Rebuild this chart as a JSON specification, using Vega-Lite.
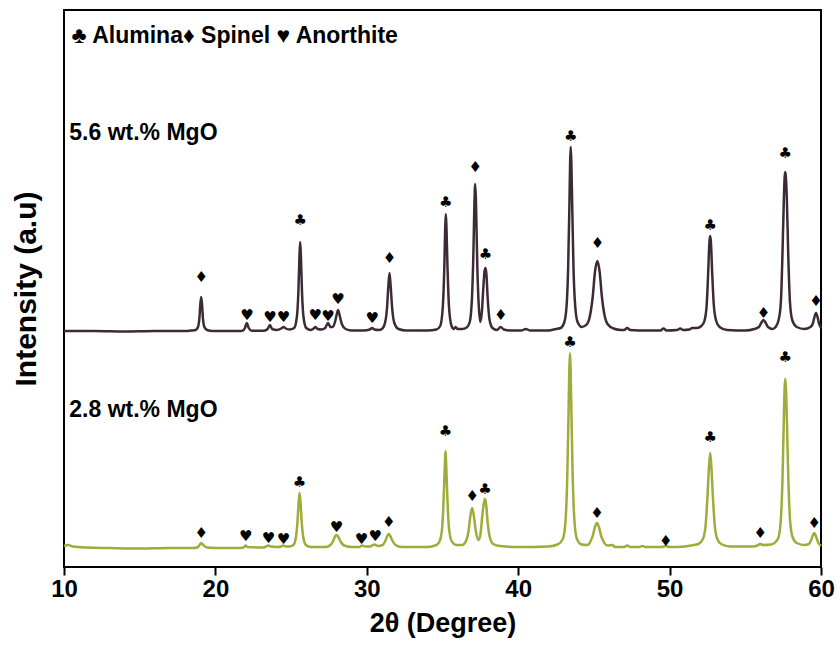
{
  "$schema": "https://vega.github.io/schema/vega-lite/v6.json",
  "autosize": {"type": "none"},
  "padding": {"left": 64, "top": 10, "right": 19, "bottom": 78},
  "width": 757,
  "height": 557,
  "background": "white",
  "config": {
    "view": {"stroke": "black", "strokeWidth": 2},
    "font": "Liberation Sans"
  },
  "datasets": {
    "mgo56": [
      {"theta": 10, "intensity": 236}, {"theta": 12, "intensity": 236}, {"theta": 14, "intensity": 235.5}, {"theta": 16, "intensity": 236}, {"theta": 18, "intensity": 236}, {"theta": 18.4, "intensity": 236.5},
      {"theta": 18.7, "intensity": 237}, {"theta": 18.85, "intensity": 240}, {"theta": 18.95, "intensity": 250}, {"theta": 19.0, "intensity": 262}, {"theta": 19.06, "intensity": 270}, {"theta": 19.12, "intensity": 262}, {"theta": 19.17, "intensity": 250}, {"theta": 19.27, "intensity": 240}, {"theta": 19.45, "intensity": 237}, {"theta": 19.8, "intensity": 236},
      {"theta": 20.5, "intensity": 236}, {"theta": 21.7, "intensity": 236},
      {"theta": 21.8, "intensity": 236.3}, {"theta": 21.95, "intensity": 239}, {"theta": 22.08, "intensity": 244}, {"theta": 22.2, "intensity": 239}, {"theta": 22.4, "intensity": 236.3},
      {"theta": 23.2, "intensity": 236.3}, {"theta": 23.45, "intensity": 238}, {"theta": 23.6, "intensity": 242}, {"theta": 23.75, "intensity": 238},
      {"theta": 24.05, "intensity": 237}, {"theta": 24.35, "intensity": 238.5}, {"theta": 24.5, "intensity": 240}, {"theta": 24.65, "intensity": 238.5}, {"theta": 24.9, "intensity": 237.5},
      {"theta": 25.2, "intensity": 239}, {"theta": 25.38, "intensity": 250}, {"theta": 25.48, "intensity": 275}, {"theta": 25.55, "intensity": 310}, {"theta": 25.6, "intensity": 325}, {"theta": 25.65, "intensity": 310}, {"theta": 25.72, "intensity": 275}, {"theta": 25.82, "intensity": 250}, {"theta": 26.0, "intensity": 239}, {"theta": 26.3, "intensity": 237},
      {"theta": 26.45, "intensity": 238}, {"theta": 26.6, "intensity": 240}, {"theta": 26.75, "intensity": 238}, {"theta": 27.0, "intensity": 237.5},
      {"theta": 27.25, "intensity": 239}, {"theta": 27.44, "intensity": 244}, {"theta": 27.6, "intensity": 240}, {"theta": 27.75, "intensity": 240},
      {"theta": 27.9, "intensity": 245}, {"theta": 28.02, "intensity": 253}, {"theta": 28.1, "intensity": 257}, {"theta": 28.2, "intensity": 252}, {"theta": 28.35, "intensity": 243}, {"theta": 28.6, "intensity": 238}, {"theta": 29.0, "intensity": 236.5},
      {"theta": 29.8, "intensity": 236.5}, {"theta": 30.2, "intensity": 237.5}, {"theta": 30.35, "intensity": 239}, {"theta": 30.5, "intensity": 237.5}, {"theta": 30.8, "intensity": 237},
      {"theta": 31.0, "intensity": 238}, {"theta": 31.2, "intensity": 244}, {"theta": 31.33, "intensity": 258}, {"theta": 31.42, "intensity": 280}, {"theta": 31.5, "intensity": 294}, {"theta": 31.58, "intensity": 280}, {"theta": 31.68, "intensity": 258}, {"theta": 31.82, "intensity": 244}, {"theta": 32.1, "intensity": 238}, {"theta": 32.6, "intensity": 236.5},
      {"theta": 34.0, "intensity": 236.5}, {"theta": 34.6, "intensity": 237.5},
      {"theta": 34.85, "intensity": 241}, {"theta": 35.02, "intensity": 260}, {"theta": 35.12, "intensity": 300}, {"theta": 35.18, "intensity": 340}, {"theta": 35.22, "intensity": 353}, {"theta": 35.26, "intensity": 340}, {"theta": 35.33, "intensity": 300}, {"theta": 35.43, "intensity": 260}, {"theta": 35.6, "intensity": 241}, {"theta": 35.75, "intensity": 238},
      {"theta": 35.86, "intensity": 240}, {"theta": 36.0, "intensity": 238}, {"theta": 36.3, "intensity": 238}, {"theta": 36.6, "intensity": 239.5},
      {"theta": 36.8, "intensity": 245}, {"theta": 36.95, "intensity": 270}, {"theta": 37.05, "intensity": 320}, {"theta": 37.11, "intensity": 365}, {"theta": 37.16, "intensity": 383}, {"theta": 37.21, "intensity": 365}, {"theta": 37.3, "intensity": 300}, {"theta": 37.4, "intensity": 260}, {"theta": 37.5, "intensity": 245}, {"theta": 37.6, "intensity": 255}, {"theta": 37.7, "intensity": 280}, {"theta": 37.78, "intensity": 296}, {"theta": 37.84, "intensity": 299}, {"theta": 37.9, "intensity": 293}, {"theta": 37.98, "intensity": 270}, {"theta": 38.1, "intensity": 248}, {"theta": 38.3, "intensity": 239}, {"theta": 38.6, "intensity": 237},
      {"theta": 38.84, "intensity": 240}, {"theta": 39.05, "intensity": 237.5}, {"theta": 39.5, "intensity": 236.5},
      {"theta": 40.2, "intensity": 236.5}, {"theta": 40.5, "intensity": 238}, {"theta": 40.8, "intensity": 236.5}, {"theta": 42.0, "intensity": 236.5}, {"theta": 42.5, "intensity": 238}, {"theta": 42.8, "intensity": 239},
      {"theta": 43.05, "intensity": 245}, {"theta": 43.2, "intensity": 262}, {"theta": 43.3, "intensity": 300}, {"theta": 43.38, "intensity": 360}, {"theta": 43.43, "intensity": 405}, {"theta": 43.47, "intensity": 420}, {"theta": 43.51, "intensity": 405}, {"theta": 43.57, "intensity": 360}, {"theta": 43.65, "intensity": 300}, {"theta": 43.76, "intensity": 262}, {"theta": 43.92, "intensity": 245}, {"theta": 44.2, "intensity": 240},
      {"theta": 44.55, "intensity": 243}, {"theta": 44.75, "intensity": 252}, {"theta": 44.92, "intensity": 270}, {"theta": 45.07, "intensity": 295}, {"theta": 45.23, "intensity": 306}, {"theta": 45.38, "intensity": 295}, {"theta": 45.53, "intensity": 270}, {"theta": 45.7, "intensity": 252}, {"theta": 45.9, "intensity": 243}, {"theta": 46.3, "intensity": 238.5}, {"theta": 46.8, "intensity": 237},
      {"theta": 47.0, "intensity": 237}, {"theta": 47.2, "intensity": 239}, {"theta": 47.4, "intensity": 237}, {"theta": 48.5, "intensity": 236.5}, {"theta": 49.4, "intensity": 236.5}, {"theta": 49.6, "intensity": 238.5}, {"theta": 49.8, "intensity": 236.5}, {"theta": 50.5, "intensity": 237}, {"theta": 50.7, "intensity": 238.5}, {"theta": 50.9, "intensity": 237}, {"theta": 51.3, "intensity": 237.5}, {"theta": 51.5, "intensity": 239}, {"theta": 51.8, "intensity": 239}, {"theta": 52.1, "intensity": 241},
      {"theta": 52.3, "intensity": 246}, {"theta": 52.45, "intensity": 262}, {"theta": 52.55, "intensity": 295}, {"theta": 52.63, "intensity": 325}, {"theta": 52.68, "intensity": 331}, {"theta": 52.73, "intensity": 325}, {"theta": 52.81, "intensity": 295}, {"theta": 52.92, "intensity": 262}, {"theta": 53.08, "intensity": 246}, {"theta": 53.3, "intensity": 240}, {"theta": 53.8, "intensity": 237},
      {"theta": 55.0, "intensity": 236.5}, {"theta": 55.6, "intensity": 238},
      {"theta": 55.9, "intensity": 240}, {"theta": 56.05, "intensity": 244}, {"theta": 56.2, "intensity": 247}, {"theta": 56.35, "intensity": 244}, {"theta": 56.5, "intensity": 240}, {"theta": 56.8, "intensity": 238}, {"theta": 57.0, "intensity": 240},
      {"theta": 57.2, "intensity": 247}, {"theta": 57.35, "intensity": 265}, {"theta": 57.45, "intensity": 310}, {"theta": 57.55, "intensity": 370}, {"theta": 57.6, "intensity": 390}, {"theta": 57.64, "intensity": 395}, {"theta": 57.68, "intensity": 390}, {"theta": 57.74, "intensity": 370}, {"theta": 57.84, "intensity": 310}, {"theta": 57.95, "intensity": 265}, {"theta": 58.1, "intensity": 247}, {"theta": 58.4, "intensity": 240}, {"theta": 58.9, "intensity": 238},
      {"theta": 59.3, "intensity": 240}, {"theta": 59.45, "intensity": 243}, {"theta": 59.57, "intensity": 250}, {"theta": 59.67, "intensity": 254}, {"theta": 59.77, "intensity": 250}, {"theta": 59.88, "intensity": 243}, {"theta": 60.0, "intensity": 239}
    ],
    "mgo28": [
      {"theta": 10, "intensity": 21}, {"theta": 10.3, "intensity": 22}, {"theta": 10.6, "intensity": 20.5}, {"theta": 11.5, "intensity": 19.5}, {"theta": 13, "intensity": 19}, {"theta": 15, "intensity": 18.5}, {"theta": 17, "intensity": 19}, {"theta": 18.5, "intensity": 19},
      {"theta": 18.8, "intensity": 19.5}, {"theta": 18.95, "intensity": 22}, {"theta": 19.06, "intensity": 24}, {"theta": 19.2, "intensity": 22}, {"theta": 19.45, "intensity": 19.5},
      {"theta": 20.5, "intensity": 19}, {"theta": 21.7, "intensity": 19}, {"theta": 21.9, "intensity": 20}, {"theta": 22.0, "intensity": 21.5}, {"theta": 22.1, "intensity": 20},
      {"theta": 23.2, "intensity": 19.5}, {"theta": 23.35, "intensity": 20.5}, {"theta": 23.5, "intensity": 21.5}, {"theta": 23.65, "intensity": 20.5},
      {"theta": 24.1, "intensity": 20}, {"theta": 24.35, "intensity": 20.5}, {"theta": 24.5, "intensity": 21.5}, {"theta": 24.65, "intensity": 20.5}, {"theta": 24.9, "intensity": 20.5},
      {"theta": 25.15, "intensity": 22}, {"theta": 25.32, "intensity": 30}, {"theta": 25.42, "intensity": 45}, {"theta": 25.5, "intensity": 65}, {"theta": 25.56, "intensity": 74}, {"theta": 25.62, "intensity": 65}, {"theta": 25.7, "intensity": 45}, {"theta": 25.8, "intensity": 30}, {"theta": 25.98, "intensity": 22}, {"theta": 26.3, "intensity": 20},
      {"theta": 27.3, "intensity": 20}, {"theta": 27.6, "intensity": 22}, {"theta": 27.78, "intensity": 26}, {"theta": 27.9, "intensity": 30.5}, {"theta": 28.0, "intensity": 32}, {"theta": 28.1, "intensity": 30.5}, {"theta": 28.25, "intensity": 26}, {"theta": 28.5, "intensity": 21.5}, {"theta": 29.0, "intensity": 20},
      {"theta": 29.5, "intensity": 20}, {"theta": 29.7, "intensity": 21.5}, {"theta": 29.9, "intensity": 20.5}, {"theta": 30.2, "intensity": 20.5}, {"theta": 30.5, "intensity": 22.5}, {"theta": 30.75, "intensity": 21},
      {"theta": 31.05, "intensity": 22}, {"theta": 31.22, "intensity": 26}, {"theta": 31.35, "intensity": 31}, {"theta": 31.45, "intensity": 33}, {"theta": 31.55, "intensity": 31}, {"theta": 31.7, "intensity": 26}, {"theta": 31.9, "intensity": 22}, {"theta": 32.3, "intensity": 20},
      {"theta": 34.0, "intensity": 20}, {"theta": 34.6, "intensity": 22},
      {"theta": 34.82, "intensity": 26}, {"theta": 34.98, "intensity": 40}, {"theta": 35.08, "intensity": 70}, {"theta": 35.15, "intensity": 100}, {"theta": 35.2, "intensity": 116}, {"theta": 35.25, "intensity": 100}, {"theta": 35.32, "intensity": 70}, {"theta": 35.42, "intensity": 40}, {"theta": 35.6, "intensity": 26}, {"theta": 35.9, "intensity": 22},
      {"theta": 36.3, "intensity": 22}, {"theta": 36.55, "intensity": 26}, {"theta": 36.72, "intensity": 36}, {"theta": 36.85, "intensity": 52}, {"theta": 36.96, "intensity": 59}, {"theta": 37.06, "intensity": 52}, {"theta": 37.2, "intensity": 36}, {"theta": 37.38, "intensity": 27}, {"theta": 37.5, "intensity": 32}, {"theta": 37.62, "intensity": 50}, {"theta": 37.72, "intensity": 63}, {"theta": 37.8, "intensity": 68}, {"theta": 37.88, "intensity": 63}, {"theta": 37.98, "intensity": 45}, {"theta": 38.12, "intensity": 30}, {"theta": 38.35, "intensity": 23}, {"theta": 38.8, "intensity": 21},
      {"theta": 40, "intensity": 20}, {"theta": 42, "intensity": 20.5}, {"theta": 42.6, "intensity": 22.5},
      {"theta": 42.95, "intensity": 28}, {"theta": 43.12, "intensity": 45}, {"theta": 43.24, "intensity": 90}, {"theta": 43.32, "intensity": 150}, {"theta": 43.38, "intensity": 200}, {"theta": 43.42, "intensity": 214}, {"theta": 43.46, "intensity": 200}, {"theta": 43.52, "intensity": 150}, {"theta": 43.6, "intensity": 90}, {"theta": 43.72, "intensity": 45}, {"theta": 43.88, "intensity": 28}, {"theta": 44.2, "intensity": 22.5}, {"theta": 44.6, "intensity": 22},
      {"theta": 44.75, "intensity": 25}, {"theta": 44.92, "intensity": 31}, {"theta": 45.07, "intensity": 40}, {"theta": 45.2, "intensity": 44}, {"theta": 45.33, "intensity": 40}, {"theta": 45.48, "intensity": 31}, {"theta": 45.65, "intensity": 25}, {"theta": 45.9, "intensity": 21.5},
      {"theta": 46.2, "intensity": 22}, {"theta": 46.4, "intensity": 20}, {"theta": 47.0, "intensity": 20}, {"theta": 47.2, "intensity": 21.5}, {"theta": 47.4, "intensity": 20}, {"theta": 48.0, "intensity": 20}, {"theta": 48.2, "intensity": 21}, {"theta": 48.4, "intensity": 20}, {"theta": 49.5, "intensity": 20}, {"theta": 49.75, "intensity": 21}, {"theta": 50.0, "intensity": 20}, {"theta": 51.0, "intensity": 20.5}, {"theta": 51.6, "intensity": 22}, {"theta": 51.9, "intensity": 23},
      {"theta": 52.2, "intensity": 28}, {"theta": 52.38, "intensity": 42}, {"theta": 52.5, "intensity": 70}, {"theta": 52.6, "intensity": 100}, {"theta": 52.68, "intensity": 114}, {"theta": 52.76, "intensity": 100}, {"theta": 52.86, "intensity": 70}, {"theta": 52.98, "intensity": 42}, {"theta": 53.15, "intensity": 28}, {"theta": 53.4, "intensity": 23}, {"theta": 54.0, "intensity": 20.5},
      {"theta": 55.5, "intensity": 20.5}, {"theta": 55.8, "intensity": 21.5}, {"theta": 55.98, "intensity": 23}, {"theta": 56.2, "intensity": 22}, {"theta": 56.7, "intensity": 22.5}, {"theta": 57.0, "intensity": 25},
      {"theta": 57.2, "intensity": 30}, {"theta": 57.35, "intensity": 48}, {"theta": 57.46, "intensity": 90}, {"theta": 57.54, "intensity": 145}, {"theta": 57.6, "intensity": 180}, {"theta": 57.64, "intensity": 188}, {"theta": 57.68, "intensity": 180}, {"theta": 57.75, "intensity": 145}, {"theta": 57.84, "intensity": 90}, {"theta": 57.95, "intensity": 48}, {"theta": 58.12, "intensity": 30}, {"theta": 58.4, "intensity": 24}, {"theta": 58.9, "intensity": 22}, {"theta": 59.2, "intensity": 23},
      {"theta": 59.35, "intensity": 27}, {"theta": 59.47, "intensity": 32}, {"theta": 59.56, "intensity": 34}, {"theta": 59.66, "intensity": 31}, {"theta": 59.8, "intensity": 25}, {"theta": 60.0, "intensity": 21}
    ],
    "markers": [
      {"symbol": "♦", "theta": 19.06, "intensity": 290},
      {"symbol": "♥", "theta": 22.08, "intensity": 252},
      {"symbol": "♥", "theta": 23.6, "intensity": 249.7},
      {"symbol": "♥", "theta": 24.5, "intensity": 249.7},
      {"symbol": "♣", "theta": 25.6, "intensity": 347},
      {"symbol": "♥", "theta": 26.6, "intensity": 252},
      {"symbol": "♥", "theta": 27.44, "intensity": 251},
      {"symbol": "♥", "theta": 28.1, "intensity": 268},
      {"symbol": "♥", "theta": 30.35, "intensity": 248.7},
      {"symbol": "♦", "theta": 31.5, "intensity": 309},
      {"symbol": "♣", "theta": 35.22, "intensity": 365.3},
      {"symbol": "♦", "theta": 37.16, "intensity": 399.7},
      {"symbol": "♣", "theta": 37.84, "intensity": 312.7},
      {"symbol": "♦", "theta": 38.84, "intensity": 252},
      {"symbol": "♣", "theta": 43.47, "intensity": 431},
      {"symbol": "♦", "theta": 45.23, "intensity": 324.3},
      {"symbol": "♣", "theta": 52.68, "intensity": 342},
      {"symbol": "♦", "theta": 56.2, "intensity": 254.3},
      {"symbol": "♣", "theta": 57.64, "intensity": 413.7},
      {"symbol": "♦", "theta": 59.67, "intensity": 266},
      {"symbol": "♦", "theta": 19.06, "intensity": 34},
      {"symbol": "♥", "theta": 22.0, "intensity": 31},
      {"symbol": "♥", "theta": 23.5, "intensity": 29.3},
      {"symbol": "♥", "theta": 24.5, "intensity": 28},
      {"symbol": "♣", "theta": 25.56, "intensity": 85.3},
      {"symbol": "♥", "theta": 28.0, "intensity": 40.3},
      {"symbol": "♥", "theta": 29.65, "intensity": 28.3},
      {"symbol": "♥", "theta": 30.55, "intensity": 31},
      {"symbol": "♦", "theta": 31.45, "intensity": 44.7},
      {"symbol": "♣", "theta": 35.2, "intensity": 136},
      {"symbol": "♦", "theta": 36.96, "intensity": 71},
      {"symbol": "♣", "theta": 37.8, "intensity": 78},
      {"symbol": "♣", "theta": 43.42, "intensity": 225.3},
      {"symbol": "♦", "theta": 45.2, "intensity": 53.7},
      {"symbol": "♦", "theta": 49.75, "intensity": 26.3},
      {"symbol": "♣", "theta": 52.68, "intensity": 129.7},
      {"symbol": "♦", "theta": 55.98, "intensity": 34.3},
      {"symbol": "♣", "theta": 57.64, "intensity": 209.7},
      {"symbol": "♦", "theta": 59.56, "intensity": 43.7}
    ],
    "labels": [
      {"label": "♣ Alumina♦ Spinel ♥ Anorthite", "theta": 10.5, "intensity": 531},
      {"label": "5.6 wt.% MgO", "theta": 10.35, "intensity": 434},
      {"label": "2.8 wt.% MgO", "theta": 10.35, "intensity": 157}
    ]
  },
  "encoding": {
    "x": {
      "field": "theta", "type": "quantitative",
      "scale": {"domain": [10, 60], "nice": false, "zero": false},
      "axis": {
        "title": "2θ (Degree)", "values": [10, 20, 30, 40, 50, 60], "grid": false, "domain": false,
        "tickSize": 8, "tickWidth": 2, "tickColor": "black",
        "labelFont": "Liberation Sans", "labelFontSize": 24, "labelFontWeight": "bold", "labelColor": "black", "labelPadding": 2,
        "titleFont": "Liberation Sans", "titleFontSize": 27, "titleFontWeight": "bold", "titleColor": "black", "titlePadding": 9,
        "labelFlush": false
      }
    },
    "y": {
      "field": "intensity", "type": "quantitative",
      "scale": {"domain": [0, 557], "nice": false, "zero": false},
      "axis": {
        "title": "Intensity (a.u)", "grid": false, "domain": false, "ticks": false, "labels": false,
        "titleFont": "Liberation Sans", "titleFontSize": 30, "titleFontWeight": "bold", "titleColor": "black", "titlePadding": 23
      }
    }
  },
  "layer": [
    {
      "data": {"name": "mgo56"},
      "mark": {"type": "line", "interpolate": "monotone", "color": "#3d2a37", "strokeWidth": 2.5}
    },
    {
      "data": {"name": "mgo28"},
      "mark": {"type": "line", "interpolate": "monotone", "color": "#9fab3a", "strokeWidth": 2.5}
    },
    {
      "data": {"name": "markers"},
      "mark": {"type": "text", "font": "DejaVu Sans", "fontSize": 15, "color": "black", "align": "center", "baseline": "middle"},
      "encoding": {"text": {"field": "symbol"}}
    },
    {
      "data": {"name": "labels"},
      "mark": {"type": "text", "font": "Liberation Sans", "fontSize": 23, "fontWeight": "bold", "color": "black", "align": "left", "baseline": "middle"},
      "encoding": {"text": {"field": "label"}}
    }
  ]
}
